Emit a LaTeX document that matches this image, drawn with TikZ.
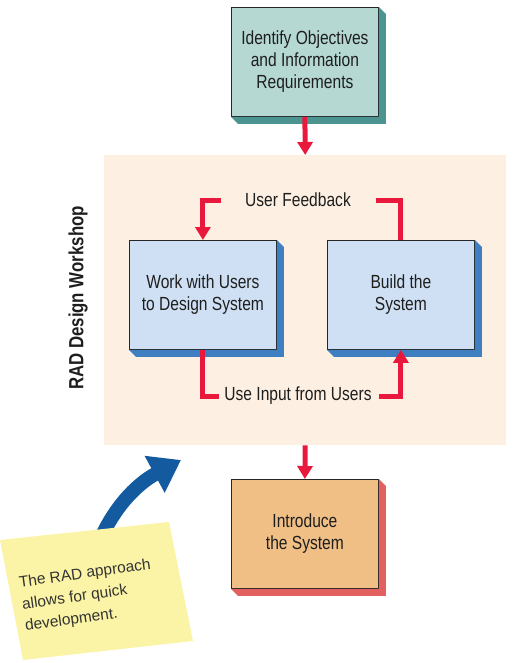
\documentclass[tikz,border=0pt]{standalone}
\usepackage{fontspec}
\setmainfont[FakeStretch=0.82]{Liberation Sans}
\newfontfamily\notefont{Liberation Sans}
\usetikzlibrary{arrows.meta}
\definecolor{tealfill}{HTML}{B5D8D3}
\definecolor{tealshadow}{HTML}{4B9490}
\definecolor{bluefill}{HTML}{CFE0F4}
\definecolor{blueshadow}{HTML}{3E7FC1}
\definecolor{orangefill}{HTML}{EFBF86}
\definecolor{orangeshadow}{HTML}{E2605F}
\definecolor{panelfill}{HTML}{FDF0E3}
\definecolor{redline}{HTML}{E8193C}
\definecolor{bluearrowc}{HTML}{135A9E}
\definecolor{notefill}{HTML}{FBF4A6}
\definecolor{txt}{HTML}{1E1E1E}
\begin{document}
\begin{tikzpicture}[x=1pt,y=-1pt,
  box/.style={draw=black!85,line width=0.8pt,minimum width=147pt,minimum height=109pt,
    align=center,font=\fontsize{19}{22}\selectfont,text=txt,inner sep=0pt},
  redl/.style={draw=redline,line width=5pt},
  reda/.style={draw=redline,line width=5pt,-{Triangle[width=15pt,length=13pt]}},
  lbl/.style={font=\fontsize{19}{22}\selectfont,text=txt,inner sep=0pt}
]
\useasboundingbox (0,0) rectangle (515,663);
% panel
\node[fill=panelfill,minimum width=402pt,minimum height=290pt,inner sep=0pt,anchor=north west] (P) at (104,155) {};
\node[rotate=90,font=\bfseries\fontsize{20.5}{24}\selectfont,text=txt] (W) at (78,298) {RAD Design Workshop};
% top box
\node[box,fill=tealfill,anchor=north west] (T) at (231,7) {Identify Objectives\\and Information\\Requirements};
\fill[tealshadow] (T.north east) -- ++(7,7) -- ([shift={(7,7)}]T.south east) -- ([shift={(7,7)}]T.south west) -- (T.south west) -- (T.south east) -- cycle;
% left / right boxes
\node[box,fill=bluefill,anchor=north west] (L) at (129,240) {Work with Users\\to Design System};
\fill[blueshadow] (L.north east) -- ++(7,7) -- ([shift={(7,7)}]L.south east) -- ([shift={(7,7)}]L.south west) -- (L.south west) -- (L.south east) -- cycle;
\node[box,fill=bluefill,anchor=north west] (R) at (327,240) {Build the\\System};
\fill[blueshadow] (R.north east) -- ++(7,7) -- ([shift={(7,7)}]R.south east) -- ([shift={(7,7)}]R.south west) -- (R.south west) -- (R.south east) -- cycle;
% bottom box
\node[box,fill=orangefill,anchor=north west] (I) at (231,479) {Introduce\\the System};
\fill[orangeshadow] (I.north east) -- ++(7,7) -- ([shift={(7,7)}]I.south east) -- ([shift={(7,7)}]I.south west) -- (I.south west) -- (I.south east) -- cycle;
% labels
\node[lbl] (fb) at (298,200) {User Feedback};
\node[lbl] (ui) at (298,396) {Use Input from Users};
% red connectors
\draw[reda] (T.south) -- (P.north);
\draw[reda] (P.south) -- (I.north);
\draw[redl] (R.north) |- ([xshift=25pt]fb.east);
\draw[reda] ([xshift=-24pt]fb.west) -| (L.north);
\draw[redl] (L.south) |- ([xshift=-5pt]ui.west);
\draw[reda] ([xshift=7pt]ui.east) -| (R.south);
% blue arrow
\coordinate (bs) at (98,545);
\coordinate (be) at (181,460);
\draw[bluearrowc,line width=14pt,-{Triangle[width=40pt,length=30pt]}] (bs) .. controls (112,510) and (135,485) .. (be);
% sticky note
\fill[notefill] (0,540) -- (169,522) -- (193,641) -- (23,660) -- cycle;
\node[rotate=8,align=left,font=\notefont\fontsize{15.5}{22}\selectfont,text=black!80] (N) at (88,596) {The RAD approach\\allows for quick\\development.};
\end{tikzpicture}
\end{document}
